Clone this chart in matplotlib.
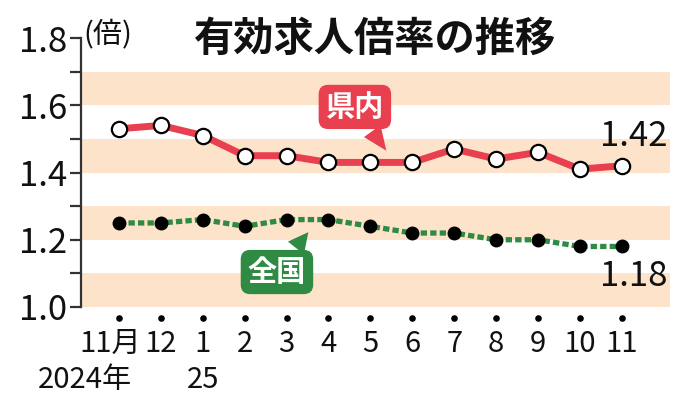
import matplotlib
matplotlib.use("Agg")
import matplotlib.pyplot as plt
import matplotlib.transforms as mtransforms

plt.rcParams['font.family'] = ['Noto Sans CJK JP', 'DejaVu Sans']

months = ["11月", "12", "1", "2", "3", "4", "5", "6", "7", "8", "9", "10", "11"]
year_labels = {0: "2024年", 2: "25"}
pref = [1.53, 1.54, 1.51, 1.45, 1.45, 1.43, 1.43, 1.43, 1.47, 1.44, 1.46, 1.41, 1.42]
national = [1.25, 1.25, 1.26, 1.24, 1.26, 1.26, 1.24, 1.22, 1.22, 1.20, 1.20, 1.18, 1.18]
bands = [(1.0, 1.1), (1.2, 1.3), (1.4, 1.5), (1.6, 1.7)]
yticks = [1.0, 1.2, 1.4, 1.6, 1.8]
yminor = [1.1, 1.3, 1.5, 1.7]

RED = "#e8404f"
GREEN = "#2f8a43"
BAND = "#fde3c9"

fig = plt.figure(figsize=(6.84, 4.0), dpi=100)
ax = fig.add_axes([0.1184, 0.2325, 0.8611, 0.6725])
x = list(range(len(months)))
ax.set_xlim(-0.907, 13.15)
ax.set_ylim(1.0, 1.8)

for lo, hi in bands:
    ax.axhspan(lo, hi, color=BAND, lw=0, zorder=0)

ax.plot(x, pref, color=RED, lw=5, zorder=3, solid_capstyle='round')
ax.plot(x, pref, ls='none', marker='o', ms=11, mfc='white', mec='black', mew=1.6, zorder=4)

ax.plot(x, national, color=GREEN, lw=3.8, ls=(0, (1.2, 0.6)), zorder=3)
ax.plot(x, national, ls='none', marker='o', ms=9, mfc='black', mec='black', zorder=4)

for s in ['top', 'right', 'bottom']:
    ax.spines[s].set_visible(False)
ax.spines['left'].set_linewidth(1.6)
ax.spines['left'].set_color('#333333')

ax.set_yticks(yticks)
ax.set_yticklabels([f"{v:.1f}" for v in yticks], fontsize=25, color='#111111')
ax.set_yticks(yminor, minor=True)
ax.tick_params(axis='y', which='both', length=8, width=1.6, color='#333333', pad=2)
ax.set_xticks([])

# dots beneath axis and month labels
trans = mtransforms.blended_transform_factory(ax.transData, ax.transAxes)
ax.scatter(x, [-0.04] * len(x), s=14, color='black', transform=trans, clip_on=False)
for i, m in enumerate(months):
    xi = i - 0.2 if i == 0 else i
    ax.text(xi, -0.08, m, transform=trans, ha='center', va='top', fontsize=21, color='#111111')
for i, lab in year_labels.items():
    ha = 'right' if i == 0 else 'center'
    xi = i + 0.3 if i == 0 else i
    ax.text(xi, -0.215, lab, transform=trans, ha=ha, va='top', fontsize=21, color='#111111')

# title and unit
fig.text(0.548, 0.902, "有効求人倍率の推移", ha='center', va='center', fontsize=29, fontweight='bold', color='#111111')
fig.text(0.122, 0.915, "(倍)", ha='left', va='center', fontsize=21, color='#111111')

# end labels
ax.text(len(x) - 1 + 0.29, pref[-1] + 0.088, f"{pref[-1]:.2f}", ha='center', va='center', fontsize=25, color='#111111')
ax.text(len(x) - 1 + 0.29, national[-1] - 0.09, f"{national[-1]:.2f}", ha='center', va='center', fontsize=25, color='#111111')

# callouts
ax.annotate("県内", xy=(6.42, 1.458), xytext=(5.63, 1.595), ha='center', va='center',
            fontsize=21, color='white', fontweight='bold', zorder=5,
            bbox=dict(boxstyle='round,pad=0.22,rounding_size=0.3', fc=RED, ec=RED),
            arrowprops=dict(arrowstyle='wedge,tail_width=0.7,shrink_factor=0.5', fc=RED, ec=RED, lw=0))
ax.annotate("全国", xy=(4.56, 1.229), xytext=(3.77, 1.104), ha='center', va='center',
            fontsize=21, color='white', fontweight='bold', zorder=5,
            bbox=dict(boxstyle='round,pad=0.22,rounding_size=0.3', fc=GREEN, ec=GREEN),
            arrowprops=dict(arrowstyle='wedge,tail_width=0.7,shrink_factor=0.5', fc=GREEN, ec=GREEN, lw=0))

fig.savefig("out.png", dpi=100)
